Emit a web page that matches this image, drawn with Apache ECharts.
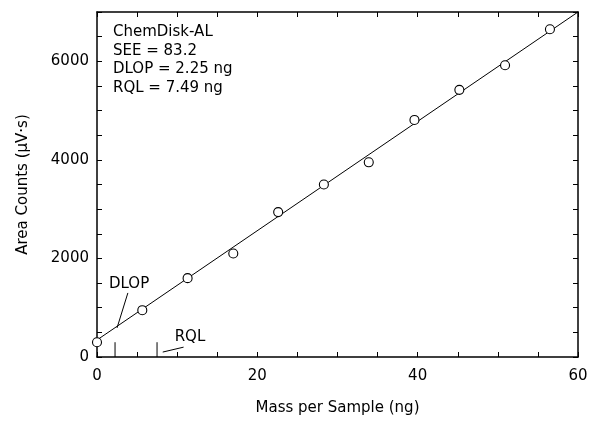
<!DOCTYPE html>
<html>
<head>
<meta charset="utf-8">
<script src="https://cdn.jsdelivr.net/npm/echarts@6/dist/echarts.min.js"></script>
<style>
  html, body { margin: 0; padding: 0; background: #fff; }
  #chart { width: 592px; height: 421px; }
</style>
</head>
<body>
<div id="chart"></div>
<script>
// calibration points
const massNg = [0, 5.65, 11.3, 17.0, 22.6, 28.3, 33.9, 39.6, 45.2, 50.9, 56.5];
const areaCounts = [300, 950, 1600, 2100, 2940, 3500, 3950, 4810, 5420, 5920, 6650];

// fitted line ends
const fitX = [0, 60];
const fitY = [345, 7000];

// detection limits (ng) and their marker height
const limitNames = ["DLOP", "RQL"];
const limitX = [2.25, 7.49];
const limitTickTop = 300;

// label anchor points and leader lines (data units)
const labelPos = [[4.0, 1480], [11.6, 405]];
const leaders = [
  [[2.5, 590], [3.85, 1300]],
  [[8.2, 100], [10.8, 200]]
];

const infoLines = ["ChemDisk-AL", "SEE = 83.2", "DLOP = 2.25 ng", "RQL = 7.49 ng"];

const font = "'DejaVu Sans', sans-serif";
const fs = 15;
const black = "#000";

const chart = echarts.init(document.getElementById("chart"));

const lineSeries = (data) => ({
  type: "line",
  data: data,
  symbol: "none",
  silent: true,
  lineStyle: { color: black, width: 1 },
  animation: false
});

const series = [
  lineSeries(fitX.map((x, i) => [x, fitY[i]])),
  {
    type: "scatter",
    data: massNg.map((x, i) => [x, areaCounts[i]]),
    symbol: "circle",
    symbolSize: 9,
    itemStyle: { color: "#fff", borderColor: black, borderWidth: 1.1, opacity: 1 },
    z: 5,
    animation: false
  },
  {
    type: "scatter",
    data: labelPos.map((p, i) => ({ value: p, name: limitNames[i] })),
    symbolSize: 0,
    itemStyle: { opacity: 1 },
    label: {
      show: true,
      position: "inside",
      formatter: "{b}",
      color: black,
      fontSize: fs,
      fontFamily: font
    },
    animation: false
  }
];
limitX.forEach((x) => series.push(lineSeries([[x, 0], [x, limitTickTop]])));
leaders.forEach((l) => series.push(lineSeries(l)));

const axisCommon = {
  axisLine: { show: true, onZero: false, lineStyle: { color: black, width: 1.5 } },
  axisTick: { show: true, inside: true, length: 5, lineStyle: { color: black } },
  minorTick: { show: true, splitNumber: 4, length: 5, lineStyle: { color: black } },
  splitLine: { show: false },
  axisLabel: { color: black, fontSize: fs, fontFamily: font, formatter: (v) => String(v) },
  nameTextStyle: { color: black, fontSize: fs, fontFamily: font }
};

chart.setOption({
  animation: false,
  grid: { left: 97, right: 14, top: 12, bottom: 64 },
  xAxis: [
    Object.assign({}, axisCommon, {
      type: "value", min: 0, max: 60, interval: 20,
      name: "Mass per Sample (ng)", nameLocation: "middle", nameGap: 44,
      axisLabel: Object.assign({}, axisCommon.axisLabel, { margin: 12 })
    }),
    Object.assign({}, axisCommon, {
      type: "value", min: 0, max: 60, interval: 20, position: "top",
      axisLabel: { show: false }
    })
  ],
  yAxis: [
    Object.assign({}, axisCommon, {
      type: "value", min: 0, max: 7000, interval: 2000,
      name: "Area Counts (\u00b5V\u00b7s)", nameLocation: "middle", nameGap: 66,
      axisLabel: Object.assign({}, axisCommon.axisLabel, { margin: 8, showMaxLabel: false })
    }),
    Object.assign({}, axisCommon, {
      type: "value", min: 0, max: 7000, interval: 2000, position: "right",
      axisLabel: { show: false }
    })
  ],
  graphic: [{
    type: "text",
    left: 113,
    top: 23,
    style: {
      text: infoLines.join("\n"),
      fill: black,
      fontSize: fs,
      fontFamily: font,
      lineHeight: 18.5
    }
  }],
  series: series
});
</script>
</body>
</html>
